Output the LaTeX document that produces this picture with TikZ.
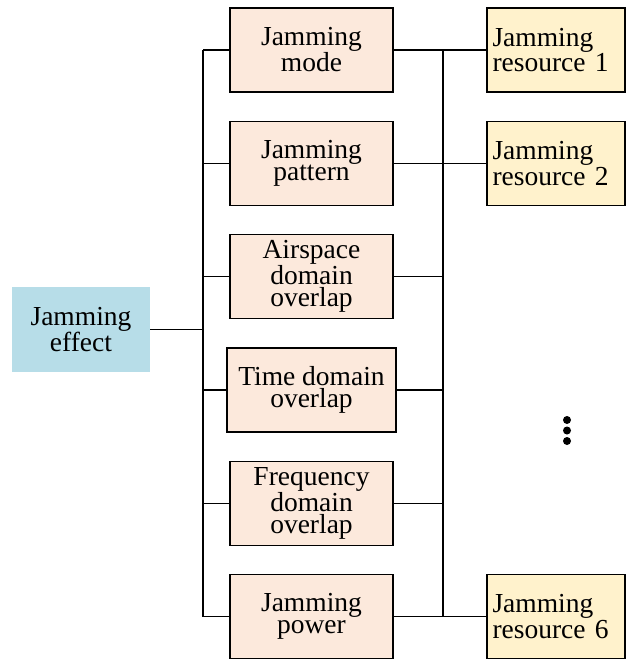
\documentclass[tikz,border=0pt]{standalone}
\usepackage{fontspec}
\setmainfont{Liberation Serif}
\definecolor{effblue}{HTML}{B7DDE8}
\definecolor{midfill}{HTML}{FCE9DC}
\definecolor{resfill}{HTML}{FFF2CC}
\begin{document}
\begin{tikzpicture}[x=1pt,y=-1pt,
  txt/.style={font=\fontsize{27.5}{22}\selectfont, inner sep=0pt},
  effbox/.style={txt, fill=effblue, minimum width=138pt, minimum height=85pt, align=center},
  midbox/.style={txt, draw, line width=1.3pt, fill=midfill, minimum width=163pt, minimum height=84pt, align=center},
  resbox/.style={txt, font=\fontsize{27.5}{24}\selectfont, draw, line width=1.3pt, fill=resfill, minimum width=138pt, minimum height=84pt, align=left, text width=127pt},
  conn/.style={line width=1.3pt}]
\useasboundingbox (0,0) rectangle (626,659);
\node[effbox] (eff) at (81,329.5) {Jamming\\effect};
\node[midbox] (m1) at (311.5,50) {Jamming\\mode};
\node[midbox] (m2) at (311.5,163.5) {Jamming\\pattern};
\node[midbox, font=\fontsize{27.5}{21.5}\selectfont] (m3) at (311.5,276.5) {Airspace\\domain\\overlap};
\node[midbox, minimum width=169pt] (m4) at (311.5,390) {Time domain\\overlap};
\node[midbox, font=\fontsize{27.5}{21.5}\selectfont] (m5) at (311.5,503.5) {Frequency\\domain\\overlap};
\node[midbox] (m6) at (311.5,616.5) {Jamming\\power};
\node[resbox] (r1) at (556,50) {Jamming\\resource 1};
\node[resbox] (r2) at (556,163.5) {Jamming\\resource 2};
\node[resbox] (r6) at (556,616.5) {Jamming\\resource 6};
\coordinate (lt1) at (203,50);
\coordinate (lt6) at (203,616.5);
\coordinate (rt1) at (443,50);
\coordinate (rt6) at (443,616.5);
\draw[conn] (lt1) -- (lt6);
\draw[conn] (rt1) -- (rt6);
\draw[conn] (eff.east) -- (eff.east -| lt1);
\foreach \m in {m1,m2,m3,m4,m5,m6}{
  \draw[conn] (\m.west) -- (\m.west -| lt1);
  \draw[conn] (\m.east) -- (\m.east -| rt1);
}
\foreach \r in {r1,r2,r6}{
  \draw[conn] (\r.west) -- (\r.west -| rt1);
}
\fill (567,420) circle (4pt) (567,430.5) circle (4pt) (567,441) circle (4pt);
\end{tikzpicture}
\end{document}
